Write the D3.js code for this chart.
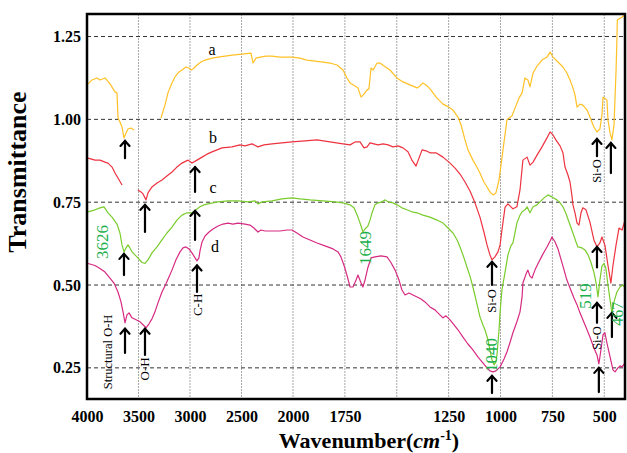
<!DOCTYPE html>
<html><head><meta charset="utf-8">
<script src="https://cdn.jsdelivr.net/npm/d3@7"></script>
<style>
html,body{margin:0;padding:0;background:#fff;}
svg{display:block;}
text{font-family:"Liberation Serif","Times New Roman",serif;}
</style></head>
<body>
<svg id="chart" width="627" height="453"></svg>
<script>
// ---------- DATA ----------
const xTicks = [4000,3500,3000,2500,2000,1750,1250,1000,750,500];
const xGrid = [3500,3000,2500,2000,1750,1500,1250,1000,750,500];
const yTicks = [0.25,0.50,0.75,1.00,1.25];
const yTickLabels = ["0.25","0.50","0.75","1.00","1.25"];

// curve a (segments separated by null)
const seriesA = [
 [3990,1.107],[3951,1.119],[3903,1.125],[3874,1.119],[3825,1.125],[3777,1.107],[3728,1.083],[3709,1.080],[3699,1.004],[3680,0.992],[3660,0.977],[3641,0.944],[3621,0.959],[3602,0.971],[3573,0.974],[3544,0.968],
 null,
 [3282,1.004],[3243,1.043],[3214,1.080],[3175,1.110],[3146,1.128],[3107,1.143],[3078,1.149],[3039,1.158],[3010,1.155],[2990,1.149],[2971,1.152],[2932,1.164],[2893,1.173],[2854,1.179],[2786,1.185],[2728,1.188],[2660,1.191],[2592,1.194],[2495,1.197],[2408,1.200],[2388,1.170],[2359,1.185],[2320,1.188],[2262,1.191],[2204,1.191],[2126,1.188],[2058,1.188],[2010,1.188],
 [1966,1.185],[1933,1.179],[1894,1.176],[1855,1.173],[1822,1.170],[1788,1.164],[1759,1.149],[1740,1.125],[1725,1.110],[1701,1.101],[1687,1.095],[1672,1.067],[1658,1.076],[1643,1.089],[1634,1.092],[1624,1.155],[1614,1.149],[1595,1.170],[1581,1.170],[1561,1.161],[1533,1.149],[1499,1.125],[1470,1.113],[1436,1.104],[1402,1.095],[1388,1.101],[1374,1.110],[1359,1.104],[1340,1.092],[1306,1.064],[1277,1.046],[1258,1.040],[1229,1.028],[1205,1.007],[1190,0.983],[1171,0.938],[1157,0.908],[1133,0.877],[1114,0.856],[1099,0.838],[1080,0.811],[1065,0.796],[1051,0.781],[1036,0.772],[1022,0.778],[1007,0.817],[988,0.908],[969,0.998],[959,1.004],[945,1.010],[930,1.034],[911,1.064],[896,1.080],[882,1.125],[868,1.119],[858,1.098],[843,1.140],[824,1.161],[800,1.179],[776,1.188],[761,1.203],[747,1.188],[723,1.173],[699,1.158],[680,1.140],[665,1.119],[651,1.095],[641,1.074],[631,1.037],[617,1.046],[603,1.043],[583,1.028],[569,1.007],[550,0.977],[535,0.962],[521,0.971],[511,1.013],[506,1.067],[497,1.064],[487,1.058],[482,0.998],[472,0.959],[463,0.938],[453,0.983],[448,1.067],[443,1.149],[439,1.240],[437,1.300],[414,1.309],[400,1.316]
];

const seriesB = [
 [3990,0.883],[3922,0.877],[3874,0.877],[3825,0.871],[3796,0.868],[3757,0.856],[3728,0.838],[3699,0.823],[3660,0.802],
 null,
 [3505,0.787],[3476,0.781],[3456,0.775],[3437,0.763],[3427,0.757],[3408,0.778],[3369,0.796],[3320,0.808],[3272,0.817],[3224,0.829],[3175,0.841],[3127,0.856],[3078,0.868],[3019,0.877],[2981,0.868],[2932,0.877],[2883,0.886],[2835,0.895],[2786,0.902],[2689,0.914],[2592,0.917],[2515,0.923],[2466,0.920],[2398,0.926],[2340,0.917],[2282,0.923],[2204,0.926],[2107,0.929],[2010,0.932],
 [1942,0.935],[1884,0.938],[1822,0.932],[1759,0.926],[1725,0.923],[1701,0.932],[1677,0.932],[1658,0.914],[1643,0.917],[1629,0.929],[1610,0.926],[1590,0.923],[1566,0.926],[1542,0.923],[1518,0.917],[1494,0.920],[1470,0.914],[1446,0.902],[1427,0.877],[1407,0.859],[1393,0.883],[1378,0.908],[1359,0.905],[1340,0.899],[1311,0.899],[1277,0.886],[1243,0.868],[1219,0.853],[1195,0.835],[1171,0.811],[1147,0.784],[1123,0.748],[1099,0.705],[1080,0.660],[1065,0.621],[1051,0.591],[1041,0.576],[1027,0.585],[1012,0.600],[1002,0.621],[993,0.666],[978,0.735],[964,0.745],[940,0.730],[921,0.736],[906,0.787],[892,0.877],[872,0.886],[858,0.862],[843,0.871],[824,0.892],[800,0.917],[776,0.944],[761,0.962],[747,0.953],[733,0.938],[713,0.920],[699,0.899],[689,0.856],[675,0.832],[665,0.811],[655,0.766],[651,0.742],[641,0.718],[631,0.687],[622,0.681],[612,0.718],[603,0.733],[588,0.727],[569,0.690],[550,0.636],[535,0.615],[521,0.627],[511,0.645],[497,0.621],[482,0.559],[468,0.506],[458,0.559],[443,0.621],[429,0.672],[414,0.666],[400,0.696]
];

const seriesC = [
 [3990,0.721],[3922,0.727],[3874,0.733],[3835,0.736],[3796,0.718],[3757,0.705],[3709,0.684],[3680,0.657],[3660,0.621],[3641,0.600],[3621,0.612],[3602,0.621],[3583,0.612],[3563,0.600],[3515,0.585],[3466,0.568],[3437,0.565],[3408,0.576],[3369,0.597],[3320,0.615],[3272,0.636],[3224,0.657],[3175,0.675],[3127,0.696],[3078,0.711],[3029,0.718],[2981,0.718],[2942,0.727],[2903,0.736],[2864,0.742],[2825,0.745],[2777,0.748],[2728,0.751],[2631,0.754],[2534,0.754],[2437,0.751],[2369,0.754],[2340,0.745],[2301,0.751],[2204,0.754],[2107,0.760],[2010,0.763],
 [1966,0.760],[1918,0.757],[1855,0.754],[1798,0.751],[1759,0.748],[1725,0.742],[1706,0.733],[1687,0.705],[1672,0.678],[1663,0.660],[1653,0.669],[1639,0.678],[1629,0.696],[1619,0.718],[1605,0.742],[1590,0.748],[1571,0.751],[1556,0.757],[1542,0.751],[1518,0.748],[1499,0.742],[1475,0.733],[1451,0.727],[1427,0.721],[1402,0.718],[1374,0.711],[1340,0.705],[1306,0.696],[1277,0.687],[1253,0.672],[1229,0.657],[1209,0.636],[1195,0.615],[1176,0.582],[1161,0.553],[1147,0.527],[1133,0.494],[1118,0.455],[1099,0.404],[1085,0.380],[1075,0.365],[1060,0.334],[1051,0.304],[1041,0.274],[1031,0.259],[1022,0.268],[1017,0.289],[1007,0.365],[1002,0.419],[993,0.485],[978,0.539],[964,0.591],[950,0.618],[940,0.627],[921,0.687],[906,0.711],[896,0.721],[882,0.727],[872,0.736],[858,0.718],[843,0.736],[824,0.742],[810,0.751],[790,0.763],[771,0.772],[752,0.766],[728,0.757],[713,0.748],[699,0.736],[684,0.715],[670,0.690],[651,0.657],[636,0.630],[627,0.615],[607,0.612],[593,0.606],[578,0.591],[564,0.568],[550,0.539],[540,0.509],[530,0.464],[521,0.515],[511,0.557],[501,0.565],[492,0.550],[482,0.500],[472,0.455],[463,0.416],[453,0.449],[439,0.479],[424,0.494],[410,0.500],[400,0.491]
];

const seriesD = [
 [3990,0.565],[3922,0.559],[3874,0.550],[3825,0.539],[3777,0.521],[3738,0.506],[3699,0.479],[3670,0.449],[3650,0.419],[3631,0.386],[3612,0.410],[3592,0.416],[3563,0.401],[3524,0.395],[3485,0.389],[3456,0.380],[3427,0.371],[3398,0.383],[3369,0.398],[3340,0.419],[3311,0.446],[3272,0.479],[3243,0.497],[3204,0.524],[3175,0.545],[3136,0.576],[3097,0.600],[3068,0.612],[3039,0.615],[3010,0.609],[2981,0.597],[2951,0.582],[2932,0.573],[2913,0.582],[2903,0.603],[2883,0.630],[2854,0.648],[2815,0.660],[2777,0.669],[2728,0.678],[2680,0.684],[2631,0.687],[2583,0.684],[2534,0.687],[2466,0.684],[2418,0.681],[2379,0.672],[2340,0.660],[2311,0.666],[2272,0.663],[2204,0.663],[2126,0.663],[2058,0.666],[2010,0.666],
 [1981,0.657],[1952,0.645],[1918,0.636],[1884,0.627],[1846,0.618],[1807,0.609],[1783,0.600],[1769,0.585],[1754,0.559],[1740,0.530],[1725,0.494],[1711,0.494],[1696,0.515],[1687,0.530],[1672,0.506],[1663,0.494],[1653,0.515],[1639,0.553],[1624,0.582],[1605,0.585],[1576,0.588],[1547,0.585],[1528,0.568],[1508,0.545],[1489,0.515],[1475,0.485],[1460,0.470],[1441,0.476],[1422,0.470],[1402,0.464],[1383,0.458],[1364,0.449],[1340,0.434],[1316,0.425],[1292,0.410],[1277,0.401],[1263,0.407],[1243,0.395],[1224,0.380],[1205,0.365],[1181,0.343],[1157,0.322],[1133,0.304],[1109,0.283],[1085,0.265],[1065,0.250],[1051,0.241],[1036,0.238],[1022,0.241],[1002,0.253],[983,0.277],[969,0.298],[955,0.325],[940,0.356],[921,0.389],[906,0.419],[896,0.464],[892,0.506],[877,0.533],[868,0.545],[858,0.527],[848,0.521],[834,0.545],[819,0.565],[800,0.588],[776,0.615],[761,0.633],[752,0.645],[737,0.630],[723,0.609],[699,0.557],[680,0.515],[665,0.491],[646,0.461],[631,0.440],[617,0.416],[603,0.395],[583,0.365],[569,0.343],[550,0.310],[535,0.289],[526,0.262],[516,0.304],[506,0.350],[497,0.356],[487,0.325],[472,0.283],[458,0.244],[448,0.238],[434,0.250],[424,0.256],[414,0.253],[400,0.265]
];

const seriesColors = ["#FFC125","#EE3340","#7ACC2C","#D62A82"];
const curveLabels = [["a",2787,1.194],["b",2777,0.929],["c",2777,0.778],["d",2757,0.600]];

// arrows: [wavenumber, headT, tailT]
const arrows = [
 [3631,0.938,0.883],[3437,0.745,0.660],[2951,0.859,0.781],
 [3641,0.597,0.530],[2951,0.727,0.636],
 [3631,0.371,0.295],[3437,0.371,0.289],[2932,0.562,0.479],
 [1041,0.573,0.500],[1041,0.229,0.174],
 [535,0.944,0.889],[468,0.932,0.838],
 [535,0.618,0.553],[535,0.449,0.386],[526,0.253,0.177],[463,0.419,0.343]
];
// black rotated band labels: [text, wavenumber, T, size]
const bandLabels = [
 ["Structural O-H",3796,0.298,12.5],["O-H",3437,0.247,13],["C-H",2932,0.440,13],
 ["Si-O",1041,0.452,12.5],["Si-O",535,0.844,12.5],["Si-O",535,0.340,12.5]
];
// green wavenumber labels: [text, wavenumber, T, size]
const peakLabels = [["3626",3845,0.630,17],["1649",1653,0.612,17],["1040",1041,0.289,17],["519",588,0.467,17],["467",438,0.413,16]];

// ---------- DRAW ----------
const svg = d3.select("#chart");
const L=87,R=625,T=14,B=399;
const x = d3.scaleLinear().domain([4000,2000,400]).range([L,293,R]);
const y = d3.scaleLinear().domain([0.156,1.318]).range([B,T]);

svg.append("defs").append("clipPath").attr("id","clip")
  .append("rect").attr("x",L).attr("y",T).attr("width",R-L).attr("height",B-T);

// vertical grid
svg.append("g").selectAll("line").data(xGrid).join("line")
  .attr("x1",d=>x(d)).attr("x2",d=>x(d)).attr("y1",T).attr("y2",B)
  .attr("stroke","#a8a8a8").attr("stroke-width",1).attr("stroke-dasharray","2,1");
// horizontal grid
svg.append("g").selectAll("line").data(yTicks).join("line")
  .attr("x1",L).attr("x2",R).attr("y1",d=>y(d)).attr("y2",d=>y(d))
  .attr("stroke","#333").attr("stroke-width",1).attr("stroke-dasharray","4,3");

// axes
const xAxis = d3.axisBottom(x).tickValues(xTicks).tickSize(0).tickPadding(12).tickFormat(d3.format("d"));
const gx = svg.append("g").attr("transform",`translate(0,${B})`).call(xAxis);
gx.select(".domain").remove();
gx.selectAll("text").attr("font-size",16).attr("font-weight","bold").attr("fill","#000")
  .style("font-family","'Liberation Serif',serif");
const yAxis = d3.axisLeft(y).tickValues(yTicks).tickSize(0).tickPadding(6).tickFormat((d,i)=>yTickLabels[i]);
const gy = svg.append("g").attr("transform",`translate(${L},0)`).call(yAxis);
gy.select(".domain").remove();
gy.selectAll("text").attr("font-size",16).attr("font-weight","bold").attr("fill","#000")
  .style("font-family","'Liberation Serif',serif");

// curves
const line = d3.line().defined(d=>d!==null).x(d=>x(d[0])).y(d=>y(d[1]));
const plot = svg.append("g").attr("clip-path","url(#clip)");
[seriesA,seriesB,seriesC,seriesD].forEach((s,i)=>{
  plot.append("path").datum(s).attr("d",line).attr("fill","none")
    .attr("stroke",seriesColors[i]).attr("stroke-width",1.2).attr("stroke-linejoin","round");
});

// frame
svg.append("rect").attr("x",L).attr("y",T).attr("width",R-L).attr("height",B-T)
  .attr("fill","none").attr("stroke","#000").attr("stroke-width",2.5);

// curve letters
svg.append("g").selectAll("text").data(curveLabels).join("text")
  .attr("x",d=>x(d[1])).attr("y",d=>y(d[2])).attr("text-anchor","middle")
  .attr("font-size",16).text(d=>d[0]);

// arrows
const ag = svg.append("g").attr("stroke","#000").attr("stroke-width",2.2).attr("fill","none")
  .attr("stroke-linecap","round").attr("stroke-linejoin","miter");
arrows.forEach(a=>{
  const ax=x(a[0]), hy=y(a[1]), ty=y(a[2]);
  ag.append("path").attr("d",`M${ax},${ty}L${ax},${hy+1}`);
  ag.append("path").attr("d",`M${ax-4.5},${hy+6}L${ax},${hy+1}L${ax+4.5},${hy+6}`);
});

// band labels (rotated)
svg.append("g").selectAll("text").data(bandLabels).join("text")
  .attr("transform",d=>`translate(${x(d[1])},${y(d[2])}) rotate(-90)`)
  .attr("text-anchor","middle").attr("dominant-baseline","central")
  .attr("font-size",d=>d[3]).attr("fill","#000").text(d=>d[0]);

// green peak labels
svg.append("g").selectAll("text").data(peakLabels).join("text")
  .attr("transform",d=>`translate(${x(d[1])},${y(d[2])}) rotate(-90)`)
  .attr("text-anchor","middle").attr("dominant-baseline","central")
  .attr("font-size",d=>d[3]).attr("fill","#1DB04E").text(d=>d[0]);

// axis titles
svg.append("text").attr("transform","translate(26,172) rotate(-90)")
  .attr("text-anchor","middle").attr("font-size",26).attr("font-weight","bold").text("Transmittance");
const xt = svg.append("text").attr("x",369).attr("y",448).attr("text-anchor","middle")
  .attr("font-size",22).attr("font-weight","bold");
xt.append("tspan").text("Wavenumber(");
xt.append("tspan").attr("font-style","italic").text("cm");
xt.append("tspan").attr("font-size",14).attr("dy",-8).text("-1");
xt.append("tspan").attr("dy",8).text(")");
</script>
</body></html>
